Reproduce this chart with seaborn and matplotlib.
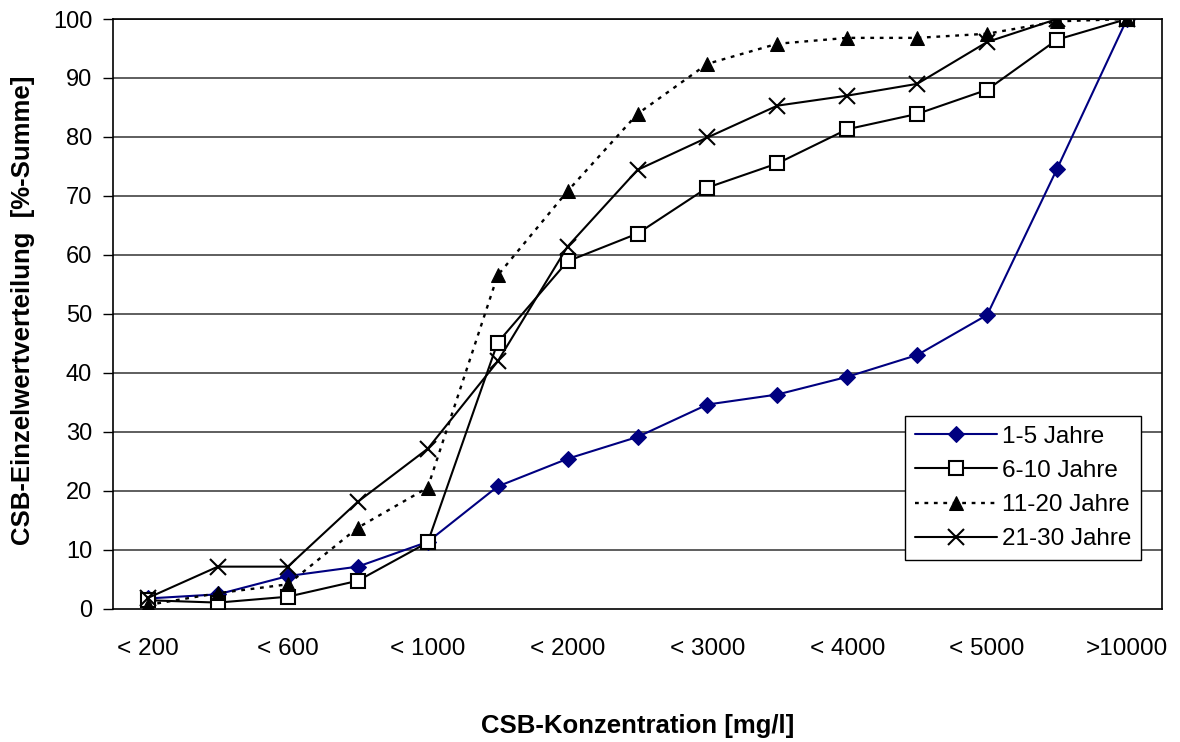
import numpy as np
import pandas as pd
import matplotlib
matplotlib.use("Agg")
import matplotlib.pyplot as plt
import seaborn as sns

categories = ["< 200", "< 400", "< 600", "< 800", "< 1000", "< 1500", "< 2000", "< 2500",
              "< 3000", "< 3500", "< 4000", "< 4500", "< 5000", "< 7500", ">10000"]
s_1_5 = [1.7, 2.4, 5.5, 7.1, 11.3, 20.7, 25.4, 29.1, 34.6, 36.3, 39.3, 43.0, 49.8, 74.6, 100]
s_6_10 = [1.4, 1.0, 2.0, 4.7, 11.2, 45.1, 58.9, 63.6, 71.4, 75.5, 81.3, 83.9, 88.0, 96.5, 100]
s_11_20 = [0.6, 2.6, 4.1, 13.7, 20.5, 56.5, 70.8, 83.9, 92.4, 95.8, 96.8, 96.8, 97.5, 99.6, 100]
s_21_30 = [1.8, 7.1, 7.1, 18.1, 27.1, 41.9, 61.4, 74.4, 79.9, 85.3, 87.0, 89.0, 96.1, 100.0, 100]
series_names = ["1-5 Jahre", "6-10 Jahre", "11-20 Jahre", "21-30 Jahre"]
yticks = [0, 10, 20, 30, 40, 50, 60, 70, 80, 90, 100]

sns.set_theme(style="white")
plt.rcParams['font.family'] = ['Liberation Sans', 'DejaVu Sans']
plt.rcParams.update({"text.color": "black", "axes.labelcolor": "black",
                     "xtick.color": "black", "ytick.color": "black"})

fig = plt.figure(figsize=(11.8, 7.42), dpi=100)
ax = fig.add_axes([113/1180, 1-608.5/742, (1162-113)/1180, (608.5-19)/742])

x = np.arange(len(categories))
styles = [
    dict(color="#000080", marker="D", markersize=8, markerfacecolor="#000080", markeredgecolor="#000080", linestyle="-", linewidth=1.5),
    dict(color="black", marker="s", markersize=10, markerfacecolor="white", markeredgecolor="black", markeredgewidth=1.5, linestyle="-", linewidth=1.5),
    dict(color="black", marker="^", markersize=10, markerfacecolor="black", markeredgecolor="black", linestyle=(0, (1.6, 2.4)), linewidth=1.7),
    dict(color="black", marker="x", markersize=11, markeredgecolor="black", markeredgewidth=1.5, linestyle="-", linewidth=1.5),
]
for name, vals, st in zip(series_names, [s_1_5, s_6_10, s_11_20, s_21_30], styles):
    df = pd.DataFrame({"x": x, "y": vals})
    sns.lineplot(data=df, x="x", y="y", ax=ax, label=name, **st)

# grid lines
for yv in yticks[1:]:
    ax.axhline(yv, color="#333333", linewidth=1.1, zorder=0)

ax.set_xlim(-0.5, len(categories) - 0.5)
ax.set_ylim(0, 100)
ax.set_yticks(yticks)
ax.set_yticklabels([str(v) for v in yticks], fontsize=17, color="black")
ax.set_xticks(x[::2])
ax.set_xticklabels(categories[::2], fontsize=17.5, color="black")
ax.set_xticks(np.arange(-0.5, len(categories)), minor=True)
ax.tick_params(axis="x", which="major", length=0, pad=21)
ax.tick_params(axis="x", which="minor", length=7, width=1, color="black", direction="out")
ax.tick_params(axis="y", which="major", length=7, width=1, color="black", direction="out", pad=8)
ax.tick_params(bottom=True, left=True)
for sp in ax.spines.values():
    sp.set_visible(True)
    sp.set_color("black")
    sp.set_linewidth(1.2)

ax.set_xlabel("CSB-Konzentration [mg/l]", fontsize=18.5, fontweight="bold", labelpad=39, color="black")
ax.set_ylabel("CSB-Einzelwertverteilung  [%-Summe]", fontsize=18.5, fontweight="bold", color="black")
ax.yaxis.set_label_coords(-0.074, 0.506)

leg = ax.legend(loc="upper left", bbox_to_anchor=(905/1180, 1-416/742), bbox_transform=fig.transFigure,
                fontsize=17.5, frameon=True, fancybox=False, edgecolor="black", framealpha=1,
                handlelength=3.4, borderaxespad=0, labelspacing=0.5, borderpad=0.4, handletextpad=0.2)
leg.get_frame().set_linewidth(1.0)
for t in leg.get_texts():
    t.set_color("black")

fig.savefig("out.png", dpi=100)
